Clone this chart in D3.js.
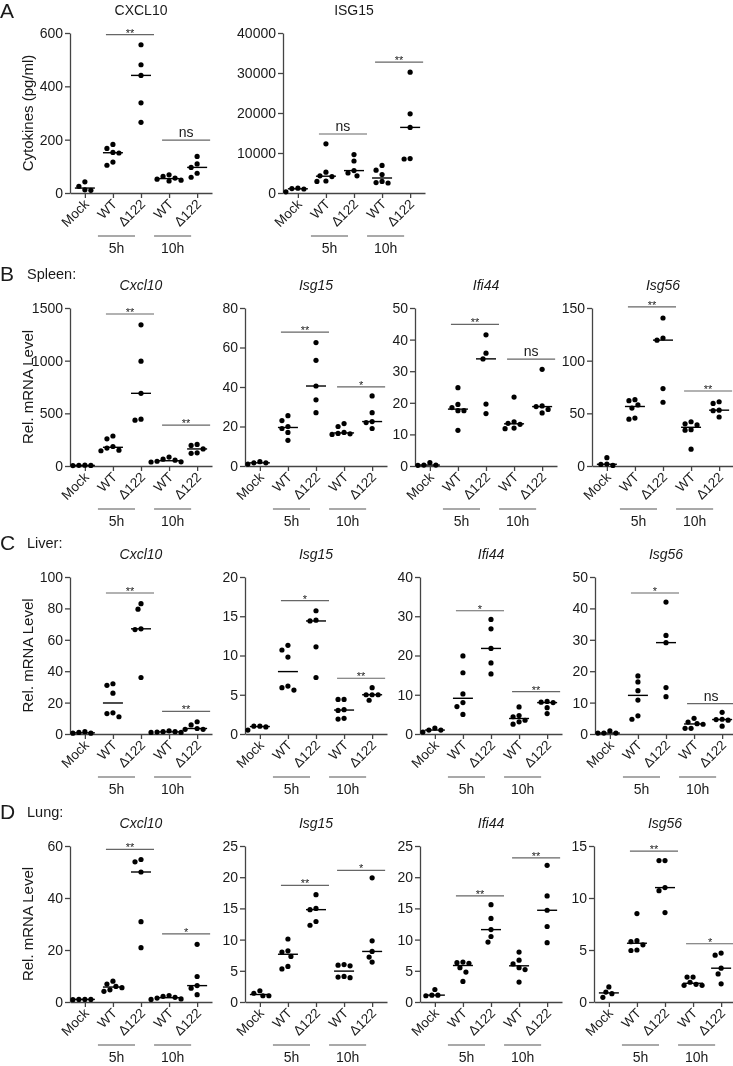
<!DOCTYPE html>
<html>
<head>
<meta charset="utf-8">
<script src="https://cdn.jsdelivr.net/npm/d3@7"></script>
<style>
  body { margin: 0; background: #fff; }
  svg { display: block; will-change: transform; }
  text { font-family: "Liberation Sans", Arial, sans-serif; fill: #1a1a1a; }
</style>
</head>
<body>
<svg id="fig" width="733" height="1066"></svg>
<script>
// categories along every x axis
const cats = ["Mock", "WT", "\u0394122", "WT", "\u0394122"];
const times = ["5h", "10h"];

// A: cytokines (pg/ml), one array per group: Mock, WT 5h, d122 5h, WT 10h, d122 10h
const cxcl10A = [[10, 42, 25, 12], [182, 167, 152, 150, 116, 104], [556, 481, 441, 338, 265], [68, 62, 56, 52, 48, 45], [137, 109, 96, 74, 59]];
const cxcl10ATicks = [0, 200, 400, 600];
const cxcl10ASig = [["**", 594], ["ns", 198]];

const isg15A = [[300, 1000, 1200, 1100], [12300, 5200, 4300, 4100, 3000, 2900], [9600, 8000, 5600, 5000, 4300], [6900, 5700, 4600, 2900, 2600, 2500], [30200, 19800, 16400, 8600, 8500]];
const isg15ATicks = [0, 10000, 20000, 30000, 40000];
const isg15ASig = [["ns", 14750], ["**", 32700]];

// B: spleen, rel. mRNA
const cxcl10B = [[5, 8, 6, 4], [285, 258, 185, 170, 150, 145], [1340, 995, 690, 445, 435], [85, 65, 55, 45, 40, 38], [205, 195, 162, 125, 120]];
const cxcl10BTicks = [0, 500, 1000, 1500];
const cxcl10BSig = [["**", 1443], ["**", 388]];

const isg15B = [[1.0, 2.2, 1.6, 1.6], [25.5, 23, 20, 19, 17, 13], [62.5, 53.5, 40.5, 33.5, 27], [21.5, 20, 17, 16.5, 16.3, 16], [35.5, 27, 22.5, 22, 19]];
const isg15BTicks = [0, 20, 40, 60, 80];
const isg15BSig = [["**", 67.8], ["*", 40.1]];

const ifi44B = [[0.3, 1.1, 0.3, 0.2], [24.8, 19.5, 18.5, 17.5, 17.5, 11.3], [41.5, 35.7, 33.9, 19.6, 16.6], [21.8, 14, 13.5, 13.2, 12, 11.8], [30.6, 19, 18.8, 17.9, 16.8]];
const ifi44BTicks = [0, 10, 20, 30, 40, 50];
const ifi44BSig = [["**", 44.8], ["ns", 33.8]];

const isg56B = [[0.5, 7.9, 1.8, 1.5], [63, 62, 58, 55, 45.5, 44.5], [140.5, 121.5, 119.5, 73.5, 60.5], [42, 40, 39, 34.5, 34, 16], [61, 59.4, 53, 52.5, 46.5]];
const isg56BTicks = [0, 50, 100, 150];
const isg56BSig = [["**", 151], ["**", 71.2]];

// C: liver
const cxcl10C = [[0.5, 1.5, 0.5, 1], [32, 31, 26, 13.5, 13, 11], [83, 79.5, 67, 66.5, 36], [2, 1.5, 1, 1.5, 1, 1.2], [7.8, 5.8, 3.5, 3, 3]];
const cxcl10CTicks = [0, 20, 40, 60, 80, 100];
const cxcl10CSig = [["**", 89.8], ["**", 14.4]];

const isg15C = [[0.5, 1, 0.9, 1], [11.3, 10.7, 9.8, 6.1, 5.9, 5.6], [15.7, 14.5, 14.4, 11.1, 7.2], [4.4, 4.4, 3.1, 3.0, 2.0, 1.9], [5.9, 5.0, 5.0, 5.0, 4.3]];
const isg15CTicks = [0, 5, 10, 15, 20];
const isg15CSig = [["*", 17], ["**", 7.1]];

const ifi44C = [[0.5, 1.5, 1, 1], [19.9, 15.6, 10.2, 8, 7, 5], [29.2, 26.8, 21.8, 18.1, 15.3], [6.9, 4.7, 4.4, 3.5, 3.1, 2.5], [8.3, 8.1, 8, 6.7, 5.2]];
const ifi44CTicks = [0, 10, 20, 30, 40];
const ifi44CSig = [["*", 31.4], ["**", 10.8]];

const isg56C = [[0.3, 1, 0.3, 0.3], [18.5, 16.6, 13.8, 10.8, 5.8, 4.7], [42, 31.4, 29.1, 14.8, 11.9], [5, 3.8, 3.3, 3.1, 1.8, 1.8], [6.9, 4.7, 4.6, 4.4, 2.5]];
const isg56CTicks = [0, 10, 20, 30, 40, 50];
const isg56CSig = [["*", 44.9], ["ns", 9.7]];

// D: lung
const cxcl10D = [[0.9, 1, 1, 1], [8, 6.9, 6, 5.5, 4.7, 4.1], [54.8, 53.9, 50, 30.9, 20.9], [2.5, 2.2, 1.8, 1.5, 1.2, 1], [22.2, 9.8, 6.3, 5.3, 2.8]];
const cxcl10DTicks = [0, 20, 40, 60];
const cxcl10DSig = [["**", 58.7], ["*", 26.2]];

const isg15D = [[1, 1.8, 1.4, 1], [10.1, 8.2, 8, 7.3, 5.7, 5.3], [17.2, 15, 14.8, 12.9, 12.3], [6, 5.9, 5.8, 4.1, 4.0, 3.9], [19.9, 9.8, 8.1, 7.2, 6.4]];
const isg15DTicks = [0, 5, 10, 15, 20, 25];
const isg15DSig = [["**", 18.7], ["*", 21.1]];

const ifi44D = [[1.1, 2, 1, 1.1], [6.4, 6.3, 6.2, 5.5, 4.8, 3.3], [15.6, 13.4, 11.6, 10.5, 9.6], [8, 6.7, 6.1, 5.5, 5.2, 3.2], [21.9, 17, 14.7, 12.1, 9.5]];
const ifi44DTicks = [0, 5, 10, 15, 20, 25];
const ifi44DSig = [["**", 17], ["**", 23.1]];

const isg56D = [[0.45, 1.45, 0.95, 0.8], [8.5, 5.9, 5.8, 5.5, 5, 4.95], [13.6, 13.6, 11, 10.7, 8.6], [2.4, 2.4, 1.9, 1.7, 1.6, 1.6], [4.7, 4.5, 3.25, 2.7, 1.75]];
const isg56DTicks = [0, 5, 10, 15];
const isg56DSig = [["**", 14.5], ["*", 5.6]];

// layout of the figure
const rows = [
  { letter: "A", organ: null, ylabel: "Cytokines (pg/ml)", top: 33, bottom: 193, panels: [
    { title: "CXCL10", italic: false, x: 70, data: cxcl10A, ticks: cxcl10ATicks, sig: cxcl10ASig },
    { title: "ISG15", italic: false, x: 283, data: isg15A, ticks: isg15ATicks, sig: isg15ASig }
  ]},
  { letter: "B", organ: "Spleen:", ylabel: "Rel. mRNA Level", top: 308, bottom: 466, panels: [
    { title: "Cxcl10", italic: true, x: 70, data: cxcl10B, ticks: cxcl10BTicks, sig: cxcl10BSig },
    { title: "Isg15", italic: true, x: 245, data: isg15B, ticks: isg15BTicks, sig: isg15BSig },
    { title: "Ifi44", italic: true, x: 415, data: ifi44B, ticks: ifi44BTicks, sig: ifi44BSig },
    { title: "Isg56", italic: true, x: 592, data: isg56B, ticks: isg56BTicks, sig: isg56BSig }
  ]},
  { letter: "C", organ: "Liver:", ylabel: "Rel. mRNA Level", top: 577, bottom: 734, panels: [
    { title: "Cxcl10", italic: true, x: 70, data: cxcl10C, ticks: cxcl10CTicks, sig: cxcl10CSig },
    { title: "Isg15", italic: true, x: 245, data: isg15C, ticks: isg15CTicks, sig: isg15CSig },
    { title: "Ifi44", italic: true, x: 420, data: ifi44C, ticks: ifi44CTicks, sig: ifi44CSig },
    { title: "Isg56", italic: true, x: 595, data: isg56C, ticks: isg56CTicks, sig: isg56CSig }
  ]},
  { letter: "D", organ: "Lung:", ylabel: "Rel. mRNA Level", top: 846, bottom: 1002, panels: [
    { title: "Cxcl10", italic: true, x: 70, data: cxcl10D, ticks: cxcl10DTicks, sig: cxcl10DSig },
    { title: "Isg15", italic: true, x: 245, data: isg15D, ticks: isg15DTicks, sig: isg15DSig },
    { title: "Ifi44", italic: true, x: 420, data: ifi44D, ticks: ifi44DTicks, sig: ifi44DSig },
    { title: "Isg56", italic: true, x: 594, data: isg56D, ticks: isg56DTicks, sig: isg56DSig }
  ]}
];

const svg = d3.select("#fig");
const axisColor = "#444";
const r = 2.6;

// place dots top-down, each as close to the category centre as it fits
function swarm(vals, y, cx) {
  const pts = vals.map(v => ({ v: v, py: y(v) })).sort((a, b) => a.py - b.py);
  const placed = [];
  const cands = [0, -3, 3, -6, 6, -9, 9, -12, 12, -15, 15, -18, 18];
  pts.forEach(p => {
    const o = cands.find(o => placed.every(q => Math.hypot(q.px - cx - o, q.py - p.py) >= 2 * r + 0.6));
    p.px = cx + (o === undefined ? 0 : o);
    placed.push(p);
  });
  return pts;
}

function drawPanel(row, p) {
  const g = svg.append("g");
  const x = d3.scalePoint().domain(d3.range(cats.length)).range([p.x, p.x + 142]).padding(0.53);
  const y = d3.scaleLinear().domain([0, p.ticks[p.ticks.length - 1]]).range([row.bottom, row.top]);

  // y axis
  const ya = g.append("g").attr("transform", `translate(${p.x},0)`)
    .call(d3.axisLeft(y).tickValues(p.ticks).tickSize(5).tickSizeOuter(0).tickFormat(d3.format("d")).tickPadding(2));
  ya.selectAll("path,line").attr("stroke", axisColor).attr("stroke-width", 1.3);
  ya.selectAll("text").attr("font-size", 14).attr("fill", "#1a1a1a");

  // x axis with rotated labels
  const xa = g.append("g").attr("transform", `translate(0,${row.bottom})`)
    .call(d3.axisBottom(x).tickSize(5).tickSizeOuter(0).tickFormat(""));
  xa.selectAll("path,line").attr("stroke", axisColor).attr("stroke-width", 1.3);
  g.selectAll(".xl").data(cats).enter().append("text")
    .attr("class", "xl")
    .attr("transform", (d, i) => `translate(${x(i) + 5},${row.bottom + 12}) rotate(-45)`)
    .attr("text-anchor", "end")
    .attr("font-size", 13.5)
    .text(d => d);

  // time group bars under the axis
  times.forEach((t, k) => {
    const x0 = x(1 + 2 * k) - 15, x1 = x(2 + 2 * k) - 6;
    g.append("line").attr("x1", x0).attr("x2", x1)
      .attr("y1", row.bottom + 43).attr("y2", row.bottom + 43)
      .attr("stroke", "#555").attr("stroke-width", 1.2);
    g.append("text").attr("x", (x0 + x1) / 2).attr("y", row.bottom + 60)
      .attr("text-anchor", "middle").attr("font-size", 14).text(t);
  });

  // points and medians
  p.data.forEach((vals, i) => {
    const pts = swarm(vals, y, x(i));
    g.selectAll(null).data(pts).enter().append("circle")
      .attr("cx", d => d.px).attr("cy", d => d.py).attr("r", r).attr("fill", "#000");
    const m = d3.median(vals);
    g.append("line").attr("x1", x(i) - 10).attr("x2", x(i) + 10)
      .attr("y1", y(m)).attr("y2", y(m)).attr("stroke", "#000").attr("stroke-width", 1.4);
  });

  // significance bars
  p.sig.forEach((s, k) => {
    const x0 = x(1 + 2 * k) - 7, x1 = x(2 + 2 * k) + 13, yy = y(s[1]);
    g.append("line").attr("x1", x0).attr("x2", x1).attr("y1", yy).attr("y2", yy)
      .attr("stroke", "#666").attr("stroke-width", 1.2);
    const ns = s[0] === "ns";
    g.append("text").attr("x", (x0 + x1) / 2).attr("y", ns ? yy - 3 : yy + 2)
      .attr("text-anchor", "middle").attr("font-size", ns ? 14 : 11).text(s[0]);
  });

  // title
  g.append("text").attr("x", x(2)).attr("y", row.top - 18)
    .attr("text-anchor", "middle").attr("font-size", 14)
    .attr("font-style", p.italic ? "italic" : "normal").text(p.title);
}

rows.forEach(row => {
  const letterY = row.organ ? row.top - 27 : 18;
  svg.append("text").attr("x", 0).attr("y", letterY).attr("font-size", 21).text(row.letter);
  if (row.organ) {
    svg.append("text").attr("x", 27).attr("y", row.top - 29).attr("font-size", 14.5).text(row.organ);
  }
  svg.append("text")
    .attr("transform", `translate(33,${(row.top + row.bottom) / 2}) rotate(-90)`)
    .attr("text-anchor", "middle").attr("font-size", 15).text(row.ylabel);
  row.panels.forEach(p => drawPanel(row, p));
});
</script>
</body>
</html>
